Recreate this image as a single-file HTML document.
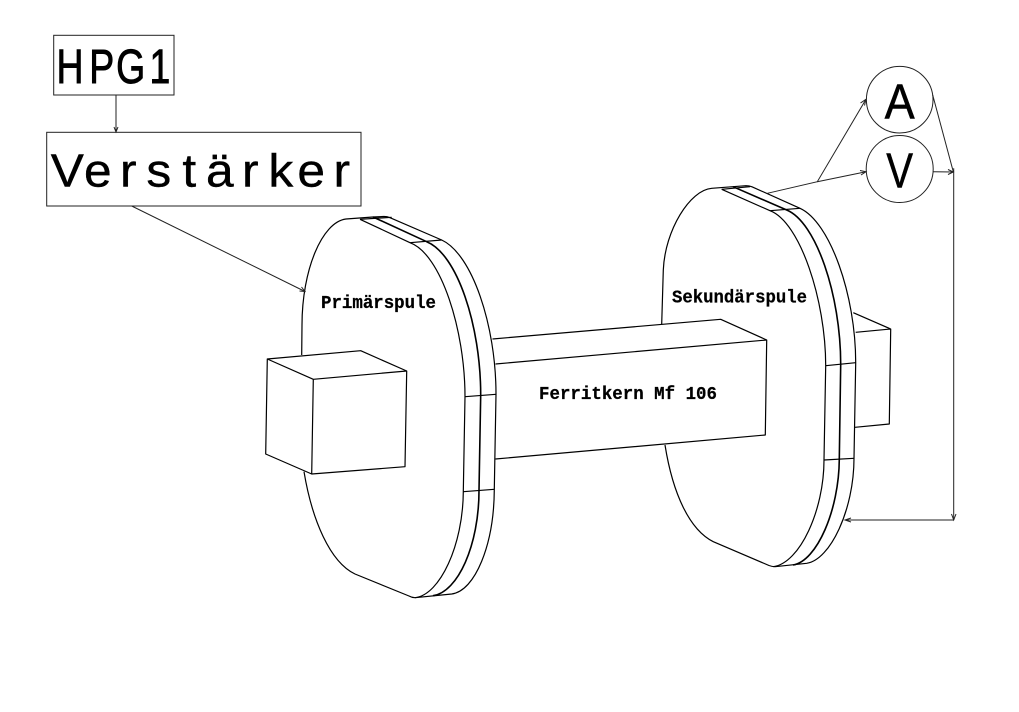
<!DOCTYPE html>
<html>
<head>
<meta charset="utf-8">
<style>
html,body{margin:0;padding:0;background:#fff;width:1019px;height:712px;overflow:hidden}
svg{display:block}
.l{fill:none;stroke:#000;stroke-width:1.2;stroke-linejoin:round}
.h{fill:none;stroke:#000;stroke-width:1.6;stroke-linejoin:round}
.t{fill:none;stroke:#222;stroke-width:1}
.a{fill:none;stroke:#222;stroke-width:1}
.b{font-family:"Liberation Mono",monospace;font-weight:bold;font-size:18px;fill:#000;stroke:#000;stroke-width:.25}
.s{font-family:"Liberation Sans",sans-serif;fill:#000;text-anchor:middle}
</style>
</head>
<body>
<svg width="1019" height="712" viewBox="0 0 1019 712" xmlns="http://www.w3.org/2000/svg">
<rect width="1019" height="712" fill="#fff"/>

<!-- Left coil -->
<g class="l">
<path d="M301.7,355 L302,325 C302,270 322,222 346,219 L373,217 L384,216.5 Q387,216.5 390,217.7 L441.7,240 C472,254 496,325 496,394.3 L494.3,489.3 C494,545 475,591 451.7,594 L415,597.7 Q412,597.7 409,596 L355,574 C330,562 312,520 304,471.7"/>
<path d="M360,219.3 L410,242.7 C441,254 465,330 465,396.7 L463.3,491.7 C463,545 440,595 415,597.7"/>
<path d="M360,219.3 L391.7,217.3 M410,242.7 L441.7,240 M465,396.7 L496,394.3 M463.3,491.7 L494.3,489.3"/>
<!-- Left cube -->
<path fill="#fff" d="M267.3,359 L360.7,350.7 L406.7,371 L405,466.7 L311.7,474 L265.7,454 Z"/>
<path d="M267.3,359 L313.3,379.3 L406.7,371 M313.3,379.3 L311.7,474"/>
</g>
<path class="h" d="M373,217 L426.7,241.7 C457,254 480.7,325 480.7,395 L479,490.5 C479,545 458,592 433,595.7"/>

<!-- Core -->
<g class="l">
<path d="M492.5,339 L720.7,319.3 L766.7,340 L765.3,435 L495.5,459"/>
<path d="M495.5,364 L766.7,340"/>
</g>

<!-- Right coil -->
<g class="l">
<path d="M661.7,324 L663.3,270 C665,230 690,190 711.7,188.3 L733,186.7 L746,185.7 Q749,185.7 752,186.8 L800,208.3 C830,222 855.7,295 855.7,362.7 L854,458.3 C854,510 830,560 806.7,563.3 L775,566.7 Q772,566.7 769,565.5 L713.3,541.7 C690,530 673,495 665,445"/>
<path d="M721.7,189.3 L770,210.7 C800,222 825.7,300 825.7,365.7 L824,460 C824,510 800,563 773.3,566.7"/>
<path d="M721.7,189.3 L750,186.7 M770,210.7 L800,208.3 M825.7,365.7 L855.7,362.7 M824,460 L854,458.3"/>
<!-- Rear cube -->
<path d="M853.3,312.7 L890.7,329 L889.3,424 L855,427.3 M855.7,332.3 L890.7,329"/>
</g>
<path class="h" d="M733,186.7 L786.7,210 C816,222 840.7,295 840.7,364.3 L839.3,459 C839,510 817,561 793,565"/>

<!-- Meters -->
<circle class="t" cx="899.7" cy="99.7" r="33.3" fill="none"/>
<circle class="t" cx="899.7" cy="169" r="33.5" fill="none"/>
<text class="s" font-size="49" stroke="#000" stroke-width=".5" transform="scale(.92,1)" x="977.9" y="118.3">A</text>
<text class="s" font-size="49" stroke="#000" stroke-width=".5" transform="scale(.82,1)" x="1097.2" y="187.7">V</text>

<!-- Boxes -->
<rect x="53.7" y="35.3" width="120.3" height="59.7" fill="none" stroke="#222" stroke-width="1"/>
<rect x="46.7" y="132.3" width="314.3" height="73.7" fill="none" stroke="#222" stroke-width="1"/>
<text class="s" font-size="48" stroke="#000" stroke-width=".9" transform="scale(.78,1)" x="89.7 130.4 167.6 205.1" y="83">HPG1</text>
<text class="s" font-size="46" stroke="#000" stroke-width=".4" transform="scale(1.08,1)" x="62.3 90.6 118.8 147 175.3 203.5 231.8 260 288.2 316.5" y="186.7">Verstärker</text>

<!-- Connectors -->
<g class="t">
<path d="M116,95 L116,132"/>
<path class="a" d="M114,127 L116,132 L118,127"/>
<path d="M131.7,206 L305,291.5"/>
<path class="a" d="M299.5,291 L305,291.5 L301.5,287"/>
<path d="M767.3,193.3 L817.3,181.7 L866,99.3"/>
<path class="a" d="M860.5,103 L866,99.3 L864.5,105.5"/>
<path d="M817.3,181.7 L866,171.7"/>
<path class="a" d="M860,170.5 L866,171.7 L861,175"/>
<path d="M932.7,95 L953.3,171.7"/>
<path d="M933.3,171.7 L953.3,172"/>
<path class="a" d="M948,169.5 L953.3,172 L948,174.5"/>
<path d="M953.7,168.3 L953.7,520"/>
<path class="a" d="M951.5,514 L953.7,520 L956,514"/>
<path d="M953.7,520 L845,520"/>
<path class="a" d="M851,518 L845,520 L851,522"/>
</g>

<!-- Labels -->
<text class="b" x="321" y="308" textLength="115" lengthAdjust="spacingAndGlyphs">Primärspule</text>
<text class="b" x="672" y="302.7" textLength="135" lengthAdjust="spacingAndGlyphs">Sekundärspule</text>
<text class="b" x="539" y="399" textLength="178" lengthAdjust="spacingAndGlyphs">Ferritkern Mf 106</text>
</svg>
</body>
</html>
